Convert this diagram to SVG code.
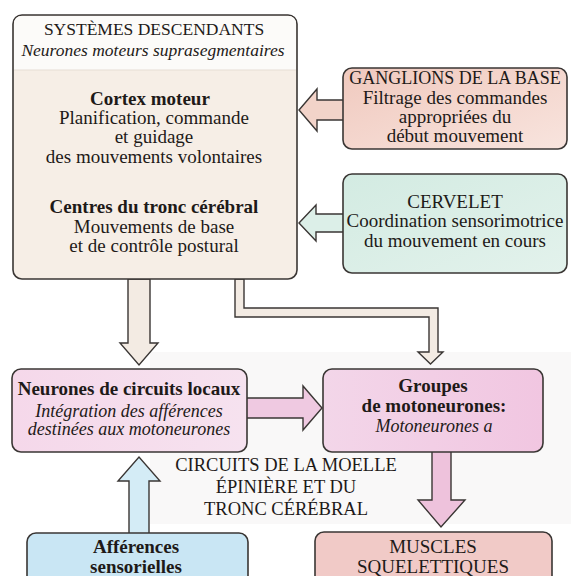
<svg xmlns="http://www.w3.org/2000/svg" width="571" height="576" viewBox="0 0 571 576">
<defs>
<style>
text{font-family:"Liberation Serif","Times New Roman",serif;fill:#1e1a18;text-anchor:middle}
.r{font-size:19px}
.b{font-size:19px;font-weight:bold}
.i{font-size:18px;font-style:italic}
.box{stroke:#3a3634;stroke-width:1.6}
.arr{stroke:#3a3634;stroke-width:1.4;stroke-linejoin:miter}
</style>
<linearGradient id="gG" x1="0" y1="0" x2="1" y2="1"><stop offset="0" stop-color="#f0c9be"/><stop offset="1" stop-color="#f8e4de"/></linearGradient>
<linearGradient id="gC" x1="0" y1="0" x2="1" y2="1"><stop offset="0" stop-color="#d3ebe2"/><stop offset="1" stop-color="#e3f2ec"/></linearGradient>
<linearGradient id="gN" x1="0" y1="0" x2="1" y2="0"><stop offset="0" stop-color="#f5d8ea"/><stop offset="1" stop-color="#f6e2ef"/></linearGradient>
<linearGradient id="gP" x1="0" y1="0" x2="1" y2="0"><stop offset="0" stop-color="#f3d6e9"/><stop offset="1" stop-color="#f1c6e1"/></linearGradient>
</defs>
<rect width="571" height="576" fill="#ffffff"/>
<rect x="150" y="352" width="421" height="172" fill="#f9f8f8"/>

<g id="connectors">
<polygon class="arr" fill="#f3ebe3" points="128,279 150,279 150,343 158,343 139,365 120,343 128,343"/>
<polygon class="arr" fill="#f3ebe3" points="235,279 235,317 429,317 429,352 418,352 430.5,364 443,352 438,352 438,308 244,308 244,279"/>
<polygon class="arr" fill="#f2d3c9" points="344,100 317,100 317,89 299,110 317,131 317,120 344,120"/>
<polygon class="arr" fill="#dcefe8" points="344,214 316,214 316,205 299,223 316,241 316,232 344,232"/>
<polygon class="arr" fill="#efc9e1" points="246,398 303,398 303,386 322,408 303,430 303,418 246,418"/>
<polygon class="arr" fill="#d4ecf6" points="129,534 129,481 118,481 139,457 160,481 149,481 149,534"/>
<polygon class="arr" fill="#eec2dc" points="432,451 451,451 451,500 465,500 441,527 418,500 432,500"/>
</g>

<g id="systemes-descendants">
<rect class="box" x="13" y="15" width="284" height="264" rx="9" fill="#f6eee6"/>
<path d="M14,70 L14,24 Q14,16 22,16 L288,16 Q296,16 296,24 L296,70 Z" fill="#fcfbf9"/>
<line x1="14" y1="70" x2="296" y2="70" stroke="#e6ddd4" stroke-width="1"/>
<text class="r" x="154" y="35" style="font-size:17.5px">SYSTÈMES DESCENDANTS</text>
<text class="i" x="153" y="56" style="font-size:17.5px">Neurones moteurs suprasegmentaires</text>
<text class="b" x="150" y="105">Cortex moteur</text>
<text class="r" x="154" y="124">Planification, commande</text>
<text class="r" x="154" y="143">et guidage</text>
<text class="r" x="154" y="163">des mouvements volontaires</text>
<text class="b" x="154" y="213">Centres du tronc cérébral</text>
<text class="r" x="154" y="233">Mouvements de base</text>
<text class="r" x="154" y="252">et de contrôle postural</text>
</g>

<g id="ganglions">
<rect class="box" x="343" y="68" width="224" height="81" rx="9" fill="url(#gG)"/>
<text class="r" x="455" y="84" style="font-size:18px">GANGLIONS DE LA BASE</text>
<text class="r" x="455" y="104">Filtrage des commandes</text>
<text class="r" x="455" y="123">appropriées du</text>
<text class="r" x="455" y="142">début mouvement</text>
</g>

<g id="cervelet">
<rect class="box" x="343" y="174" width="224" height="99" rx="9" fill="url(#gC)"/>
<text class="r" x="455" y="208">CERVELET</text>
<text class="r" x="455" y="227">Coordination sensorimotrice</text>
<text class="r" x="455" y="247">du mouvement en cours</text>
</g>

<g id="neurones-locaux">
<rect class="box" x="12" y="369" width="235" height="83" rx="9" fill="url(#gN)"/>
<text class="b" x="129" y="395">Neurones de circuits locaux</text>
<text class="i" x="129" y="417">Intégration des afférences</text>
<text class="i" x="129" y="435">destinées aux motoneurones</text>
</g>

<g id="motoneurones">
<rect class="box" x="323" y="369" width="220" height="83" rx="9" fill="url(#gP)"/>
<text class="b" x="433" y="392">Groupes</text>
<text class="b" x="434" y="412">de motoneurones:</text>
<text class="i" x="434" y="432">Motoneurones a</text>
</g>

<g id="circuits-label">
<text class="r" x="286" y="471" style="font-size:18.5px">CIRCUITS DE LA MOELLE</text>
<text class="r" x="286" y="493" style="font-size:18.5px">ÉPINIÈRE ET DU</text>
<text class="r" x="286" y="515" style="font-size:18.5px">TRONC CÉRÉBRAL</text>
</g>

<g id="afferences">
<rect class="box" x="27" y="533" width="221" height="70" rx="9" fill="#c9e6f4"/>
<text class="b" x="136" y="553">Afférences</text>
<text class="b" x="136" y="573">sensorielles</text>
</g>

<g id="muscles">
<rect class="box" x="315" y="532" width="237" height="70" rx="9" fill="#f1cac7"/>
<text class="r" x="433" y="553">MUSCLES</text>
<text class="r" x="433" y="573">SQUELETTIQUES</text>
</g>
</svg>
